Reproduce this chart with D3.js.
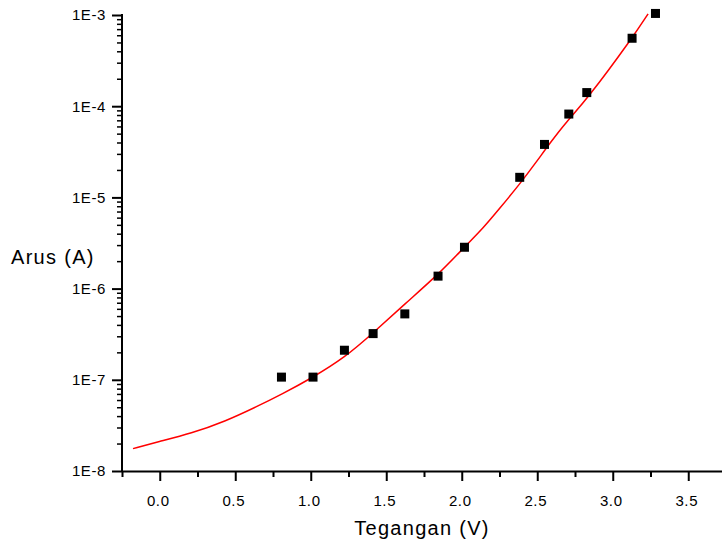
<!DOCTYPE html>
<html>
<head>
<meta charset="utf-8">
<script src="https://cdn.jsdelivr.net/npm/d3@7"></script>
<style>
  body { margin: 0; background: #fff; }
  svg { display: block; font-family: "Liberation Sans", Arial, sans-serif; }
  .axis path, .axis line { stroke: #000; }
</style>
</head>
<body>
<svg id="chart" width="722" height="545"></svg>
<script>
// measured points: voltage (V) and current (A)
var voltage = [0.806, 1.015, 1.223, 1.413, 1.623, 1.843, 2.018, 2.384, 2.548, 2.709, 2.828, 3.128, 3.283];
var current = [1.07e-7, 1.07e-7, 2.11e-7, 3.21e-7, 5.28e-7, 1.37e-6, 2.84e-6, 1.66e-5, 3.81e-5, 8.20e-5, 1.41e-4, 5.56e-4, 1.04e-3];

// fitted curve
var fitVoltage = [-0.177, -0.011, 0.210, 0.430, 0.651, 0.806, 1.005, 1.225, 1.413, 1.623, 1.843, 2.020, 2.141, 2.252, 2.384, 2.495, 2.583, 2.693, 2.826, 3.128, 3.234];
var fitCurrent = [1.76e-8, 2.09e-8, 2.59e-8, 3.48e-8, 5.16e-8, 6.93e-8, 1.04e-7, 1.75e-7, 3.26e-7, 6.80e-7, 1.42e-6, 2.88e-6, 4.58e-6, 7.60e-6, 1.40e-5, 2.46e-5, 3.92e-5, 6.76e-5, 1.17e-4, 5.56e-4, 1.03e-3];

var xTicks = [0, 0.5, 1.0, 1.5, 2.0, 2.5, 3.0, 3.5];
var yTicks = [1e-8, 1e-7, 1e-6, 1e-5, 1e-4, 1e-3];
var yTickLabels = ["1E-8", "1E-7", "1E-6", "1E-5", "1E-4", "1E-3"];

var svg = d3.select("#chart");

var x = d3.scaleLinear().domain([-0.25, 3.75]).range([122, 726]);
var y = d3.scaleLog().domain([1e-8, 1e-3]).range([471, 15]);

// minor ticks
var xMinor = d3.range(-0.25, 3.76, 0.25).filter(function(v) { return Math.abs((v * 2) % 1) > 0.01; });
var yMinor = [];
for (var e = -8; e < -3; e++) {
    for (var m = 2; m <= 9; m++) yMinor.push(m * Math.pow(10, e));
}

svg.append("g")
    .attr("class", "axis")
    .attr("transform", "translate(0,471)")
    .call(d3.axisBottom(x).tickValues(xMinor).tickSize(6).tickFormat(""))
    .call(function(g) { g.selectAll("line").attr("stroke-width", 2); g.select(".domain").remove(); });

svg.append("g")
    .attr("class", "axis")
    .attr("transform", "translate(122,0)")
    .call(d3.axisLeft(y).tickValues(yMinor).tickSize(5).tickFormat(""))
    .call(function(g) { g.selectAll("line").attr("stroke-width", 1.5); g.select(".domain").remove(); });

var xAxis = svg.append("g")
    .attr("class", "axis")
    .attr("transform", "translate(0,471)")
    .call(d3.axisBottom(x).tickValues(xTicks).tickSize(10).tickSizeOuter(0).tickPadding(14).tickFormat(d3.format(".1f")));
xAxis.select(".domain").attr("stroke-width", 2);
xAxis.selectAll("line").attr("stroke-width", 2);
xAxis.selectAll("text")
    .attr("font-size", 15)
    .attr("fill", "#000")
    .attr("dx", -2)
    .style("letter-spacing", "0.6px");

var yAxis = svg.append("g")
    .attr("class", "axis")
    .attr("transform", "translate(122,0)")
    .call(d3.axisLeft(y).tickValues(yTicks).tickSize(10).tickSizeOuter(0).tickPadding(6)
        .tickFormat(function(d, i) { return yTickLabels[i]; }));
yAxis.select(".domain").attr("d", "M0," + (y(1e-8) + 1) + "V" + (y(1e-3) - 1)).attr("stroke-width", 2);
yAxis.selectAll("line").attr("stroke-width", 2);
yAxis.selectAll("text")
    .attr("font-size", 15)
    .attr("fill", "#000")
    .style("letter-spacing", "0.6px");

// fit line (smoothed through the read points)
var fit = fitVoltage.map(function(v, i) { return [v, fitCurrent[i]]; });
svg.append("path")
    .datum(fit)
    .attr("fill", "none")
    .attr("stroke", "#ff0000")
    .attr("stroke-width", 1.5)
    .attr("d", d3.line()
        .x(function(d) { return x(d[0]); })
        .y(function(d) { return y(d[1]); })
        .curve(d3.curveBasis));

// data markers
var size = 9;
svg.append("g")
    .selectAll("rect")
    .data(voltage)
    .enter().append("rect")
    .attr("x", function(d) { return x(d) - size / 2; })
    .attr("y", function(d, i) { return y(current[i]) - size / 2; })
    .attr("width", size)
    .attr("height", size)
    .attr("fill", "#000");

// axis titles
svg.append("text")
    .attr("x", 422)
    .attr("y", 535)
    .attr("text-anchor", "middle")
    .attr("font-size", 20)
    .style("letter-spacing", "1.3px")
    .text("Tegangan (V)");

svg.append("text")
    .attr("x", 11)
    .attr("y", 264)
    .attr("font-size", 20)
    .style("letter-spacing", "1.3px")
    .text("Arus (A)");
</script>
</body>
</html>
